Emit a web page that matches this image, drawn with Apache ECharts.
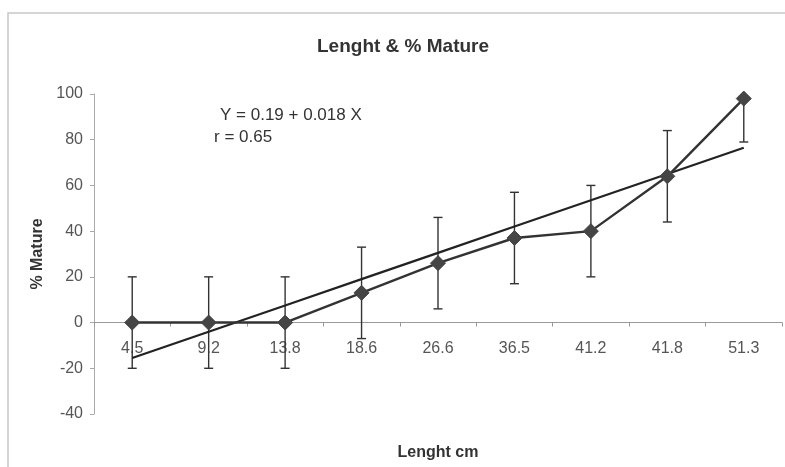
<!DOCTYPE html>
<html><head><meta charset="utf-8">
<script src="https://cdn.jsdelivr.net/npm/echarts@6/dist/echarts.min.js"></script>
<style>html,body{margin:0;padding:0;background:#fff}#c{width:785px;height:467px}</style>
</head><body><div id="c"></div>
<script>
const categories = ['4.5','9.2','13.8','18.6','26.6','36.5','41.2','41.8','51.3'];
const matureValues = [0, 0, 0, 13, 26, 37, 40, 64, 98];
const errorLow = [-20, -20, -20, -7, 6, 17, 20, 44, 79];
const errorHigh = [20, 20, 20, 33, 46, 57, 60, 84, 98];
const trendValues = [-15.5, -4, 7.5, 19, 30.5, 42, 53.5, 65, 76.5];
const yTicks = { min: -40, max: 100, interval: 20 };

const chart = echarts.init(document.getElementById('c'), null, {renderer: 'canvas'});
const font = 'Arial, "Liberation Sans", sans-serif';
chart.setOption({
  animation: false,
  backgroundColor: '#fff',
  title: {
    text: 'Lenght & % Mature', left: 312, top: 32,
    textStyle: {fontFamily: font, fontSize: 19, fontWeight: 'bold', color: '#333'}
  },
  graphic: [
    {type: 'rect', shape: {x: 8, y: 13, width: 800, height: 460}, style: {fill: 'none', stroke: '#c8c8c8', lineWidth: 1.5}, silent: true},
    {type: 'text', left: 220, top: 107, style: {text: 'Y = 0.19 + 0.018 X', fontFamily: font, fontSize: 17, fill: '#333'}},
    {type: 'text', left: 214, top: 129, style: {text: 'r = 0.65', fontFamily: font, fontSize: 17, fill: '#333'}}
  ],
  grid: {left: 94, right: 3, top: 94, bottom: 53, containLabel: false, outerBoundsMode: 'none'},
  xAxis: {
    type: 'category', data: categories, boundaryGap: true,
    name: 'Lenght cm', nameLocation: 'middle', nameGap: 31,
    nameTextStyle: {fontFamily: font, fontSize: 16, fontWeight: 'bold', color: '#333'},
    axisLine: {onZero: true, lineStyle: {color: '#999', width: 1}},
    axisTick: {show: true, alignWithLabel: false, length: 4, lineStyle: {color: '#999'}},
    axisLabel: {fontFamily: font, fontSize: 16, color: '#555', margin: -73},
    splitLine: {show: false}
  },
  yAxis: {
    type: 'value', min: yTicks.min, max: yTicks.max, interval: yTicks.interval,
    name: '% Mature', nameLocation: 'middle', nameGap: 48, nameRotate: 90,
    nameTextStyle: {fontFamily: font, fontSize: 16, fontWeight: 'bold', color: '#333'},
    axisLine: {show: true, lineStyle: {color: '#aaa', width: 1}},
    axisTick: {show: true, length: 4, lineStyle: {color: '#aaa'}},
    axisLabel: {fontFamily: font, fontSize: 16, color: '#555', margin: 11},
    splitLine: {show: false}
  },
  series: [
    {
      type: 'custom', name: 'err', z: 2,
      data: categories.map((c, i) => [i, errorLow[i], errorHigh[i]]),
      renderItem: function (params, api) {
        const x = api.value(0);
        const lo = api.coord([x, api.value(1)]);
        const hi = api.coord([x, api.value(2)]);
        const w = 4.5;
        const st = {stroke: '#333', lineWidth: 1.4};
        return {type: 'group', children: [
          {type: 'line', shape: {x1: lo[0], y1: lo[1], x2: hi[0], y2: hi[1]}, style: st},
          {type: 'line', shape: {x1: lo[0]-w, y1: lo[1], x2: lo[0]+w, y2: lo[1]}, style: st},
          {type: 'line', shape: {x1: hi[0]-w, y1: hi[1], x2: hi[0]+w, y2: hi[1]}, style: st}
        ]};
      }
    },
    {
      type: 'line', name: 'trend', data: trendValues, showSymbol: false, symbol: 'none', z: 3,
      lineStyle: {color: '#222', width: 2.2}
    },
    {
      type: 'line', name: '% Mature', data: matureValues, z: 4,
      symbol: 'diamond', symbolSize: 15, showSymbol: true,
      lineStyle: {color: '#333', width: 2.4},
      itemStyle: {color: '#454545', borderColor: '#454545'}
    }
  ]
});
</script></body></html>
